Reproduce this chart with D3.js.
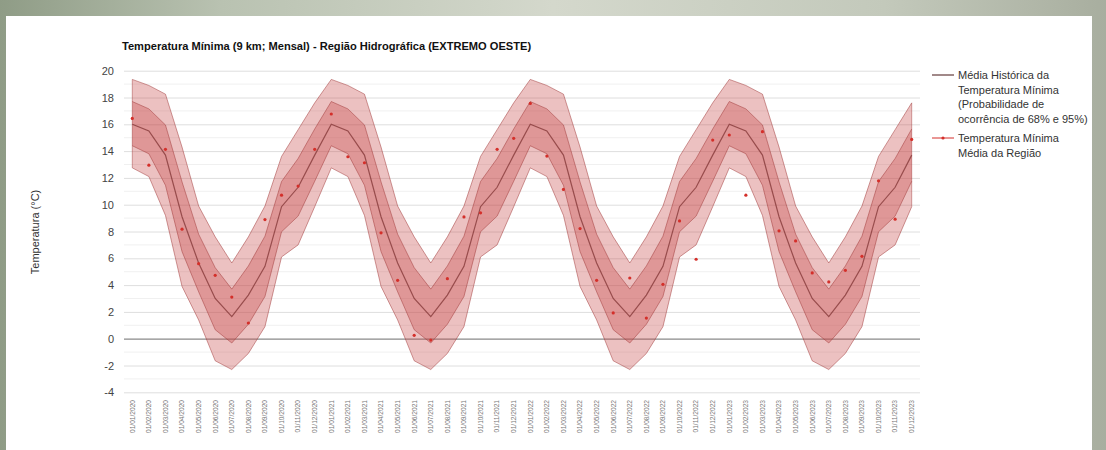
<!DOCTYPE html>
<html>
<head>
<meta charset="utf-8">
<script src="https://cdn.jsdelivr.net/npm/d3@7"></script>
<style>
  html, body { margin: 0; padding: 0; }
  body { width: 1106px; height: 450px; overflow: hidden;
    background: linear-gradient(90deg, #8f9c86 0%, #b9c2b1 20%, #d4d8cc 50%, #c3c9bb 80%, #a8ae9f 100%); }
  svg { display: block; font-family: Arial, "Liberation Sans", sans-serif; }
</style>
</head>
<body>
<svg id="chart" width="1106" height="450"></svg>
<script>
// ---- data ----
const years = ["2020", "2021", "2022", "2023"];
const monthNums = ["01","02","03","04","05","06","07","08","09","10","11","12"];
// historical climatology per month (Jan..Dec)
const histMean = [16.0, 15.5, 13.7, 9.1, 5.65, 3.0, 1.65, 3.25, 5.4, 9.85, 11.3, 13.7];
const histLo68 = [14.4, 13.8, 11.45, 6.5, 3.5, 0.67, -0.32, 1.08, 3.15, 7.98, 9.15, 11.75];
const histHi68 = [17.7, 17.15, 15.95, 11.7, 7.8, 5.3, 3.7, 5.43, 7.65, 11.73, 13.45, 15.65];
const histLo95 = [12.75, 12.1, 9.2, 3.9, 1.4, -1.65, -2.3, -1.1, 0.9, 6.1, 7.0, 9.85];
const histHi95 = [19.35, 18.9, 18.25, 14.3, 9.9, 7.6, 5.65, 7.6, 9.9, 13.6, 15.6, 17.6];
// observed regional monthly mean of minimum temperature
const observed = [
  16.44, 12.95, 14.13, 8.17, 5.6, 4.73, 3.11, 1.17, 8.89, 10.71, 11.39, 14.13,
  16.77, 13.58, 13.13, 7.9, 4.36, 0.25, -0.1, 4.48, 9.09, 9.39, 14.13, 14.95,
  17.56, 13.63, 11.14, 8.22, 4.36, 1.92, 4.53, 1.54, 4.06, 8.79, 5.93, 14.82,
  15.2, 10.71, 15.45, 8.05, 7.3, 4.91, 4.24, 5.1, 6.15, 11.78, 8.92, 14.87
];
const yTicks = [-4, -2, 0, 2, 4, 6, 8, 10, 12, 14, 16, 18, 20];
const titleText = "Temperatura Mínima (9 km; Mensal) - Região Hidrográfica (EXTREMO OESTE)";
const yTitle = "Temperatura (°C)";
const legendItems = [
  ["Média Histórica da", "Temperatura Mínima", "(Probabilidade de", "ocorrência de 68% e 95%)"],
  ["Temperatura Mínima", "Média da Região"]
];

const dates = [];
years.forEach(y => monthNums.forEach(m => dates.push("01/" + m + "/" + y)));
const rows = dates.map((d, i) => ({
  date: d,
  mean: histMean[i % 12], lo68: histLo68[i % 12], hi68: histHi68[i % 12],
  lo95: histLo95[i % 12], hi95: histHi95[i % 12], obs: observed[i]
}));

// ---- drawing ----
const svg = d3.select("#chart");
svg.append("rect").attr("x", 6).attr("y", 16).attr("width", 1086).attr("height", 440).attr("fill", "#ffffff");

const x = d3.scaleBand().domain(dates).range([124, 920]);
const cx = d => x(d) + x.bandwidth() / 2;
const y = d3.scaleLinear().domain([-4, 20]).range([392.3, 70.7]);

// minor gridlines
const minor = d3.range(-3, 20, 2);
svg.append("g").selectAll("line").data(minor).join("line")
  .attr("x1", 124).attr("x2", 920).attr("y1", d => y(d)).attr("y2", d => y(d))
  .attr("stroke", "#f0f0f0").attr("stroke-width", 1);

// y axis with major gridlines
const yAxis = svg.append("g").attr("transform", "translate(124,0)")
  .call(d3.axisLeft(y).tickValues(yTicks).tickSize(-796).tickPadding(10).tickFormat(d => String(d)));
yAxis.select(".domain").remove();
yAxis.selectAll(".tick line").attr("stroke", d => d === 0 ? "#8a8a8a" : "#dedede").attr("stroke-width", d => d === 0 ? 1.3 : 1);
yAxis.selectAll(".tick text").attr("fill", "#444").attr("font-size", 11).attr("font-family", "Arial, 'Liberation Sans', sans-serif");

// bands
const bandFill = "rgb(196,66,66)";
const areaOuter = d3.area().x(d => cx(d.date)).y0(d => y(d.lo95)).y1(d => y(d.hi95));
const areaInner = d3.area().x(d => cx(d.date)).y0(d => y(d.lo68)).y1(d => y(d.hi68));
svg.append("path").datum(rows).attr("d", areaOuter).attr("fill", bandFill).attr("fill-opacity", 0.33);
svg.append("path").datum(rows).attr("d", areaInner).attr("fill", bandFill).attr("fill-opacity", 0.33);
["lo95", "hi95", "lo68", "hi68"].forEach(k => {
  svg.append("path").datum(rows)
    .attr("d", d3.line().x(d => cx(d.date)).y(d => y(d[k])))
    .attr("fill", "none").attr("stroke", "rgb(160,55,55)").attr("stroke-opacity", 0.5).attr("stroke-width", 1);
});
// outer band left/right edges
[rows[0], rows[rows.length - 1]].forEach(r => {
  svg.append("line").attr("x1", cx(r.date)).attr("x2", cx(r.date)).attr("y1", y(r.lo95)).attr("y2", y(r.hi95))
    .attr("stroke", "rgb(160,55,55)").attr("stroke-opacity", 0.45).attr("stroke-width", 1);
});

// mean line
svg.append("path").datum(rows)
  .attr("d", d3.line().x(d => cx(d.date)).y(d => y(d.mean)))
  .attr("fill", "none").attr("stroke", "#86393a").attr("stroke-opacity", 0.8).attr("stroke-width", 1.2);

// observed points
svg.append("g").selectAll("circle").data(rows).join("circle")
  .attr("cx", d => cx(d.date)).attr("cy", d => y(d.obs)).attr("r", 1.6).attr("fill", "#d42f2a");

// x labels
svg.append("g").selectAll("text").data(dates).join("text")
  .attr("transform", d => `translate(${cx(d) + 2.3},400) rotate(-90)`)
  .attr("text-anchor", "end").attr("font-size", 6.6).attr("fill", "#777").text(d => d);

// title
svg.append("text").attr("x", 122).attr("y", 50).attr("font-size", 11.1).attr("font-weight", "bold")
  .attr("fill", "#111").text(titleText);

// y title
svg.append("text").attr("transform", "translate(39,232) rotate(-90)").attr("text-anchor", "middle")
  .attr("font-size", 11).attr("fill", "#333").text(yTitle);

// legend
const lg = svg.append("g");
lg.append("line").attr("x1", 932).attr("x2", 954).attr("y1", 75).attr("y2", 75).attr("stroke", "#6e4a4a").attr("stroke-width", 1.3);
legendItems[0].forEach((t, i) => lg.append("text").attr("x", 958).attr("y", 79 + i * 14.5).attr("font-size", 11).attr("fill", "#333").text(t));
lg.append("line").attr("x1", 932).attr("x2", 954).attr("y1", 138).attr("y2", 138).attr("stroke", "#d42f2a").attr("stroke-width", 1);
lg.append("circle").attr("cx", 943).attr("cy", 138).attr("r", 1.6).attr("fill", "#d42f2a");
legendItems[1].forEach((t, i) => lg.append("text").attr("x", 958).attr("y", 142 + i * 14.5).attr("font-size", 11).attr("fill", "#333").text(t));
</script>
</body>
</html>
